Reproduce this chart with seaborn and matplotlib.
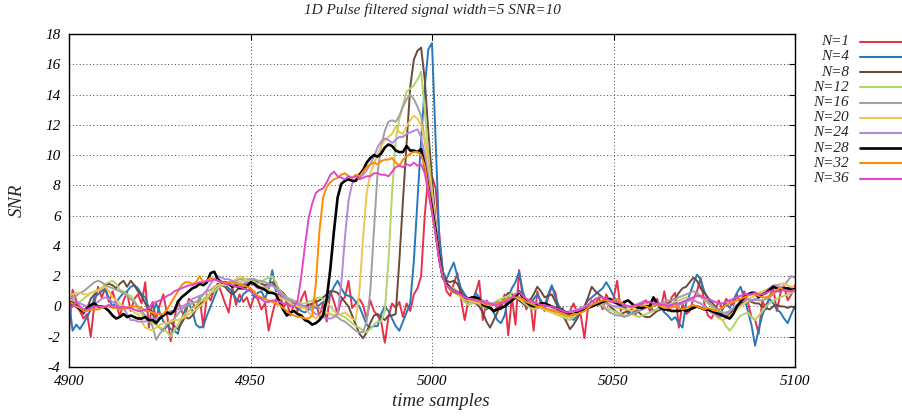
import numpy as np
import pandas as pd
import matplotlib
matplotlib.use("Agg")
import matplotlib.pyplot as plt
import seaborn as sns
from matplotlib.lines import Line2D

# sample axis 4900..5100
samples = np.arange(4900, 5101)

labels = ["N=1", "N=4", "N=8", "N=12", "N=16", "N=20", "N=24", "N=28", "N=32", "N=36"]
colors = ["#e8304a", "#2a78b8", "#6b4a3a", "#b2d46a", "#a0a0a0",
          "#ecc850", "#b38ad8", "#000000", "#ff8a00", "#e048c8"]

snr_n1 = [-1.6, 1.1, 0.4, -0.3, -0.8, -0.5, -2.0, 0.2, 1.3, 0.6,
          1.2, 0.3, 1.0, 0.2, -0.7, 0.4, 0.9, -0.3, 0.5, 0.8,
          0.2, 1.6, -1.4, 0.3, -0.8, 0.1, 0.8, -0.5, -2.3, -0.9,
          0.4, -0.3, -0.7, 0.5, 0.3, -0.2, 0.6, -1.4, 0.8, 0.4,
          1.1, 1.5, 0.9, 0.2, -0.4, 1.3, 0.1, 0.8, 0.3, 0.6,
          -0.1, 0.7, 0.5, -0.2, 0.2, -1.6, -0.5, 0.4, 1.0, -0.1,
          0.3, -0.6, 0.2, -0.3, 0.5, 1.0, -0.2, 0.1, 0.4, -0.7,
          0.2, -1.0, 1.0, 0.3, -0.5, 0.4, 0.6, 1.7, -0.1, 0.2,
          0.5, 0.1, -0.8, 0.4, -0.3, -0.6, -1.0, -2.4, -0.7, 0.2,
          -0.1, 0.3, -0.7, 0.2, -0.3, 0.8, 1.2, 2.0, 6.0, 8.7,
          8.6, 7.8, 4.8, 2.2, 1.0, 0.7, 1.5, 2.2, 0.5, -0.9,
          0.4, 0.2, 0.9, 1.7, -0.9, 0.4, 0.1, -0.4, 0.0, -0.2,
          0.8, -1.9, 0.6, -1.2, 2.4, 0.6, -0.2, 0.5, -1.6, 1.0,
          0.2, -0.3, 0.6, 1.3, 0.9, -0.4, -0.1, -0.9, -0.3, 0.2,
          -0.4, -0.6, -2.1, 0.0, 0.4, 0.2, 0.6, -0.2, 0.8, 0.3,
          0.5, 1.7, -0.3, 0.2, -0.5, -0.2, -0.6, 0.1, 0.3, 0.4,
          -0.3, 0.2, 0.5, -0.2, 1.0, -0.3, 0.6, 0.9, -1.4, 0.2,
          -0.5, -0.3, 0.5, 1.0, 1.9, 0.2, -0.6, -0.8, -0.3, 0.4,
          -0.2, 0.5, 0.3, 0.1, 0.8, 0.2, 1.0, 0.3, -0.7, -0.9,
          -1.8, 0.4, -0.2, 0.7, 1.2, -0.3, 0.9, 1.3, 0.4, 0.8,
          1.4]

snr_n4 = [0.3, -1.6, -1.2, -1.5, -1.1, -0.7, -0.2, 0.6, 0.8, 1.0,
          1.2, 0.5, 0.0, 0.3, 0.6, 0.9, 1.0, 1.3, 1.4, 1.2,
          0.8, 0.6, -0.1, -0.5, 0.2, -0.4, -1.0, -1.2, -1.5, -1.6,
          -1.8, -0.9, -0.2, 0.2, -0.3, -1.2, -1.4, -1.3, -0.6, 0.0,
          0.6, 1.2, 1.4, 1.5, 1.2, 1.0, 0.5, 0.3, 0.8, 1.0,
          1.2, 0.6, 0.9, 1.0, 0.5, 1.2, 2.4, 1.0, 1.0, 0.6,
          0.3, 0.1, 0.2, -0.1, -0.3, -0.4, -0.2, 0.0, -0.1, 0.1,
          0.3, 0.4, 0.8, 1.3, 1.7, 1.2, 0.8, 0.7, 0.6, 0.3,
          0.0, -0.6, -1.2, -1.4, -1.3, -1.3, -0.5, 0.0, -0.3, -0.8,
          -1.3, -1.6, -1.0, -0.4, 0.2, 3.0, 7.0, 11.0, 14.5, 17.0,
          17.4, 11.0, 4.5, 2.3, 1.8, 2.4, 2.9, 2.0, 1.2, 0.8,
          0.5, 0.3, 0.9, 0.6, 0.1, -0.2, 0.0, -0.4, -0.9, -1.1,
          -0.6, 0.6, 1.2, 1.6, 2.3, 1.0, 0.3, 0.0, 0.5, 0.8,
          0.4, 0.0, 0.8, 1.4, 0.6, 0.0, -0.3, -0.5, -0.7, -0.9,
          -0.6, -0.2, 0.0, 0.4, 0.6, 0.8, 1.0, 1.2, 1.6, 1.2,
          0.7, 0.3, 0.0, -0.1, -0.3, -0.5, -0.3, 0.0, -0.2, 0.1,
          0.0, -0.3, -0.2, 0.0, -0.4, -0.6, -0.9, -0.7, -1.1, -1.4,
          0.2, 0.8, 1.5, 2.1, 1.8, 1.0, 0.5, 0.0, -0.4, -0.7,
          -0.2, 0.2, -0.1, 0.4, 0.9, 1.3, 0.6, -0.3, -1.2, -2.6,
          -1.5, -0.6, 0.1, 0.5, 0.2, -0.2, -0.4, -0.8, -1.1, -0.5,
          0.0]

snr_n8 = [0.3, 0.3, 0.1, -0.2, -0.5, -0.1, 0.5, 0.8, 1.0, 1.2,
          1.4, 1.5, 1.4, 1.2, 1.5, 1.7, 1.3, 1.7, 1.4, 1.0,
          0.7, 0.2, -0.2, -0.4, -1.2, -1.4, -1.6, -1.3, -1.0, -1.3,
          -1.5, -1.1, -0.7, -0.8, -0.6, -0.2, 0.1, 0.3, 0.5, 0.8,
          1.0, 1.5, 1.4, 1.3, 1.0, 0.8, 1.0, 1.3, 1.4, 1.5,
          1.7, 1.8, 1.6, 1.5, 1.4, 1.5, 1.6, 1.3, 1.1, 0.9,
          0.6, 0.4, 0.2, 0.0, -0.1, 0.0, 0.1, 0.2, 0.3, 0.4,
          0.6, 0.8, 1.0, 1.0, 0.9, 0.6, 0.3, 0.0, -0.6, -1.2,
          -1.8, -2.1, -1.7, -1.1, -0.6, -0.5, -0.7, -0.9, -0.6, -0.6,
          -0.5, 3.0, 7.0, 10.8, 14.5, 16.3, 16.9, 17.1, 15.0, 11.5,
          8.5, 5.5, 3.3, 2.0, 1.7, 1.6, 1.7, 1.5, 1.0, 0.4,
          0.3, 0.5, 0.2, 0.0, -0.4, -1.0, -1.4, -0.9, -0.4, 0.2,
          0.6, 0.9, 0.8, 0.6, 0.4, 0.2, 0.0, 0.4, 0.8, 1.3,
          1.0, 0.6, 0.7, 0.8, 0.3, -0.2, -0.6, -1.0, -1.5, -1.2,
          -0.8, -0.3, 0.0, 0.6, 1.3, 1.0, 0.8, 0.6, 0.3, 0.0,
          -0.2, -0.4, -0.5, -0.4, -0.3, -0.2, -0.3, -0.4, -0.6, -0.7,
          -0.7, -0.5, -0.3, -0.2, 0.0, 0.2, 0.4, 0.5, 0.9, 1.2,
          1.3, 1.6, 1.9, 1.7, 1.2, 0.9, 0.6, 0.3, 0.0, -0.3,
          -0.5, -0.7, -0.5, -0.2, 0.0, 0.2, 0.3, 0.4, 0.3, 0.2,
          0.2, 0.0, -0.1, -0.2, 0.0, 0.1, 0.0, 0.0, -0.1, 0.0,
          -0.1]

snr_n12 = [0.5, 0.4, 0.3, 0.3, 0.5, 0.7, 0.9, 1.0, 1.1, 1.2,
           1.5, 1.6, 1.7, 1.5, 1.1, 1.0, 0.8, 0.7, 0.4, -0.2,
           -0.5, -0.8, -1.0, -1.1, -1.2, -1.4, -1.5, -1.7, -2.0, -1.6,
           -1.2, -0.8, -0.5, -0.3, -0.1, 0.0, 0.3, 0.5, 0.7, 0.9,
           1.0, 1.2, 1.4, 1.4, 1.5, 1.5, 1.6, 1.6, 1.7, 1.6,
           1.7, 1.6, 1.5, 1.6, 1.8, 1.9, 2.0, 1.6, 1.1, 0.8,
           0.6, 0.5, 0.4, 0.3, 0.2, 0.2, 0.3, 0.4, 0.5, 0.6,
           0.5, 0.3, 0.0, -0.3, -0.5, -0.6, -0.7, -0.9, -1.1, -1.3,
           -1.4, -1.6, -1.7, -1.5, -1.2, -1.0, -1.0, -0.3, 3.0, 7.5,
           11.0, 12.4, 13.3, 14.2, 14.4, 14.6, 15.0, 15.5, 13.0, 10.0,
           7.5, 5.2, 3.2, 2.0, 1.5, 1.3, 1.2, 1.0, 0.6, 0.3,
           0.1, 0.2, 0.3, 0.2, 0.0, -0.1, 0.0, 0.2, 0.4, 0.5,
           0.6, 0.7, 0.9, 0.8, 0.6, 0.3, 0.1, -0.1, -0.2, -0.1,
           -0.1, -0.2, -0.3, -0.4, -0.5, -0.6, -0.7, -0.8, -0.9, -0.7,
           -0.5, -0.4, -0.3, -0.1, 0.0, 0.1, 0.2, 0.1, -0.1, -0.2,
           -0.3, -0.4, -0.5, -0.6, -0.6, -0.5, -0.6, -0.7, -0.6, -0.5,
           -0.4, -0.3, -0.2, -0.1, 0.0, 0.1, 0.2, 0.3, 0.4, 0.5,
           0.6, 0.5, 0.6, 0.7, 0.6, 0.4, 0.2, 0.0, -0.3, -0.6,
           -0.9, -1.3, -1.6, -1.3, -0.9, -0.6, -0.5, -0.4, -0.7, -0.9,
           -0.6, -0.3, 0.0, 0.2, 0.4, 0.5, 0.6, 0.7, 0.8, 0.9,
           1.0]

snr_n16 = [0.5, 0.6, 0.7, 0.9, 1.0, 1.2, 1.4, 1.6, 1.7, 1.6,
           1.4, 1.3, 1.2, 1.1, 1.0, 0.9, 0.7, 0.5, 0.3, 0.0,
           -0.3, -0.6, -0.9, -1.3, -2.2, -1.8, -1.5, -1.2, -1.0, -0.8,
           -0.5, -0.2, 0.0, 0.1, 0.2, 0.3, 0.5, 0.8, 1.0, 1.1,
           1.3, 1.4, 1.5, 1.5, 1.6, 1.6, 1.7, 1.8, 1.8, 1.8,
           1.8, 1.8, 1.7, 1.7, 1.6, 1.5, 1.4, 1.2, 1.0, 0.8,
           0.5, 0.4, 0.3, 0.1, 0.0, -0.1, -0.1, 0.0, 0.0, -0.1,
           -0.3, -0.4, -0.5, -0.6, -0.7, -0.9, -1.0, -1.2, -1.4, -1.6,
           -1.7, -1.7, -1.0, 1.0, 5.0, 8.8, 10.6, 11.6, 12.2, 12.3,
           12.2, 12.6, 13.2, 13.7, 14.0, 13.7, 13.2, 12.6, 11.0, 9.3,
           7.5, 5.3, 3.3, 2.0, 1.5, 1.3, 1.1, 0.9, 0.7, 0.5,
           0.3, 0.3, 0.2, 0.2, 0.1, 0.0, 0.1, 0.2, 0.3, 0.3,
           0.4, 0.5, 0.6, 0.7, 0.6, 0.4, 0.2, 0.1, 0.0, -0.1,
           -0.1, -0.2, -0.2, -0.3, -0.4, -0.4, -0.5, -0.5, -0.6, -0.5,
           -0.4, -0.2, -0.1, 0.0, 0.1, 0.2, 0.1, 0.0, -0.2, -0.4,
           -0.5, -0.6, -0.6, -0.7, -0.6, -0.5, -0.4, -0.3, -0.2, -0.1,
           0.0, 0.1, 0.2, 0.2, 0.3, 0.4, 0.4, 0.5, 0.6, 0.7,
           0.8, 0.9, 1.0, 0.9, 0.7, 0.5, 0.3, 0.1, -0.1, -0.3,
           -0.4, -0.4, -0.3, -0.1, 0.0, 0.1, 0.2, 0.3, 0.4, 0.5,
           0.4, 0.4, 0.5, 0.6, 0.8, 1.0, 1.2, 1.4, 1.7, 2.0,
           1.9]

snr_n20 = [0.7, 0.8, 0.9, 0.9, 0.8, 0.8, 0.9, 1.0, 1.0, 1.2,
           1.3, 1.0, 0.6, 0.4, 0.2, 0.0, -0.1, -0.2, -0.4, -0.5,
           -1.0, -1.4, -1.5, -1.6, -1.4, -1.2, -1.1, -1.1, -1.0, -0.9,
           -0.9, -0.8, -0.7, -0.5, -0.4, -0.2, 0.0, 0.2, 0.5, 0.9,
           1.2, 1.4, 1.5, 1.5, 1.5, 1.6, 1.8, 2.0, 1.9, 1.7,
           1.6, 1.5, 1.4, 1.3, 1.2, 1.1, 0.9, 0.8, 0.6, 0.5,
           0.4, 0.2, 0.1, 0.0, -0.1, -0.1, -0.4, -0.6, -0.8, -0.6,
           -0.4, -0.4, -0.5, -0.6, -0.5, -0.5, -0.4, -0.6, -0.8, -0.9,
           1.0, 4.5, 7.5, 8.8, 9.4, 10.0, 10.6, 11.0, 11.2, 11.4,
           11.9, 11.5, 11.4, 11.9, 12.3, 12.6, 12.4, 12.0, 11.0, 9.3,
           7.5, 5.2, 3.2, 1.9, 1.4, 1.1, 0.9, 0.8, 0.6, 0.5,
           0.4, 0.3, 0.3, 0.2, 0.1, 0.0, 0.0, 0.1, 0.2, 0.3,
           0.4, 0.5, 0.6, 0.6, 0.5, 0.4, 0.3, 0.2, 0.1, 0.0,
           -0.1, -0.2, -0.3, -0.4, -0.5, -0.5, -0.6, -0.7, -0.7, -0.6,
           -0.5, -0.4, -0.2, 0.0, 0.1, 0.2, 0.3, 0.3, 0.2, 0.1,
           0.0, -0.1, -0.1, -0.2, -0.2, -0.3, -0.2, -0.1, 0.0, 0.1,
           0.2, 0.3, 0.2, 0.1, 0.0, -0.1, -0.1, 0.0, 0.1, 0.2,
           0.3, 0.4, 0.4, 0.3, 0.2, 0.0, -0.2, -0.4, -0.6, -0.8,
           -0.9, -0.8, -0.6, -0.4, -0.2, 0.0, 0.2, 0.4, 0.6, 0.7,
           0.9, 1.0, 1.1, 1.2, 1.3, 1.4, 1.5, 1.5, 1.4, 1.3,
           1.2]

snr_n24 = [0.6, 0.5, 0.3, 0.2, 0.1, 0.0, 0.1, 0.2, 0.3, 0.5,
           0.6, 0.5, 0.3, 0.2, 0.0, -0.1, -0.5, -0.9, -0.9, -1.0,
           -1.0, -1.0, -0.9, -0.8, -0.8, -0.7, -0.5, -0.4, -0.3, -0.3,
           -0.2, 0.0, 0.1, 0.3, 0.5, 0.6, 0.7, 0.8, 1.1, 1.5,
           1.8, 2.0, 1.9, 1.8, 1.8, 1.7, 1.6, 1.4, 1.5, 1.6,
           1.5, 1.4, 1.2, 1.2, 1.3, 1.3, 1.4, 1.2, 0.9, 0.7,
           0.5, 0.4, 0.3, 0.2, 0.1, 0.0, -0.1, -0.3, -0.5, -0.6,
           -0.7, -0.8, -0.8, -0.7, -0.5, 1.5, 4.5, 7.0, 8.1, 8.4,
           8.5, 8.7, 9.0, 9.4, 9.9, 10.5, 10.9, 11.1, 11.0, 10.8,
           11.0, 11.2, 11.2, 11.4, 11.5, 11.6, 11.7, 11.2, 10.0, 8.5,
           7.0, 5.0, 3.2, 1.9, 1.4, 1.2, 1.1, 1.0, 0.8, 0.6,
           0.5, 0.5, 0.6, 0.5, 0.4, 0.3, 0.2, 0.2, 0.2, 0.3,
           0.4, 0.5, 0.6, 0.7, 0.6, 0.5, 0.4, 0.3, 0.2, 0.1,
           0.0, -0.1, -0.2, -0.2, -0.3, -0.3, -0.4, -0.4, -0.3, -0.3,
           -0.2, -0.1, 0.0, 0.1, 0.1, 0.2, 0.3, 0.3, 0.2, 0.1,
           0.0, 0.0, 0.1, 0.1, 0.0, 0.0, 0.1, 0.2, 0.3, 0.3,
           0.3, 0.4, 0.3, 0.2, 0.2, 0.1, 0.1, 0.0, 0.1, 0.2,
           0.3, 0.4, 0.4, 0.3, 0.2, 0.0, -0.2, -0.4, -0.5, -0.7,
           -0.6, -0.5, -0.3, -0.1, 0.1, 0.3, 0.4, 0.5, 0.4, 0.4,
           0.6, 0.8, 1.0, 1.2, 1.4, 1.4, 1.3, 1.2, 1.2, 1.2,
           1.1]

snr_n28 = [0.3, 0.2, 0.0, -0.2, -0.3, -0.1, 0.1, 0.2, 0.0, 0.0,
           -0.1, -0.3, -0.6, -0.8, -0.7, -0.5, -0.7, -0.6, -0.7, -0.8,
           -0.8, -0.7, -0.9, -0.9, -1.1, -0.8, -0.6, -0.4, -0.5, -0.3,
           0.3, 0.6, 0.8, 1.0, 1.2, 1.3, 1.5, 1.4, 1.6, 2.2,
           2.3, 1.8, 1.6, 1.6, 1.5, 1.3, 1.4, 1.2, 1.2, 1.3,
           1.6, 1.5, 1.3, 1.2, 1.1, 0.9, 0.9, 0.8, 0.3, -0.2,
           -0.6, -0.4, -0.3, -0.5, -0.6, -0.9, -1.0, -1.2, -1.1, -0.9,
           -0.6, 0.5, 2.5, 5.0, 7.2, 8.1, 8.3, 8.4, 8.3, 8.3,
           8.7, 9.0, 9.5, 9.8, 10.0, 9.9, 10.1, 10.5, 10.7, 10.6,
           10.3, 10.2, 10.2, 10.6, 10.3, 10.3, 10.2, 10.4, 9.3, 7.8,
           6.5, 5.0, 3.2, 1.9, 1.5, 1.2, 1.0, 0.9, 0.8, 0.6,
           0.5, 0.6, 0.6, 0.5, 0.1, 0.0, -0.1, -0.3, -0.2, -0.1,
           0.0, 0.2, 0.4, 0.6, 1.0, 0.6, 0.3, 0.1, 0.0, 0.1,
           0.2, 0.2, 0.1, 0.0, -0.1, -0.2, -0.3, -0.4, -0.5, -0.5,
           -0.4, -0.3, -0.2, -0.1, 0.0, 0.1, 0.2, 0.3, 0.4, 0.5,
           0.3, 0.2, 0.1, 0.3, 0.4, 0.2, 0.0, -0.1, -0.1, 0.0,
           0.0, 0.6, 0.2, -0.1, -0.2, -0.2, -0.3, -0.3, -0.3, -0.2,
           -0.3, -0.2, -0.1, 0.0, -0.1, -0.2, -0.2, -0.3, -0.4, -0.5,
           -0.6, -0.7, -0.8, -0.5, 0.0, 0.3, 0.6, 0.8, 0.9, 0.9,
           0.6, 0.8, 0.9, 1.1, 1.3, 1.2, 1.1, 1.2, 1.2, 1.1,
           1.15]

snr_n32 = [0.3, 0.2, 0.0, -0.1, -0.3, -0.3, -0.2, -0.2, -0.2, -0.1,
           0.0, 0.0, -0.1, -0.1, -0.2, -0.2, -0.1, 0.0, 0.0, 0.0,
           -0.1, -0.3, -0.3, -0.4, -0.5, -0.5, -0.5, -0.2, 0.2, 0.6,
           1.0, 1.4, 1.6, 1.6, 1.5, 1.6, 2.0, 1.6, 1.7, 1.9,
           1.8, 1.7, 1.6, 1.6, 1.6, 1.6, 1.5, 1.5, 1.4, 1.3,
           1.2, 1.0, 0.7, 0.6, 0.5, 0.4, 0.3, 0.2, 0.1, -0.1,
           -0.3, -0.5, -0.6, -0.7, -0.7, -0.8, -0.8, -0.6, 1.5, 5.0,
           7.2, 7.9, 8.2, 8.4, 8.5, 8.7, 8.8, 8.6, 8.5, 8.7,
           8.6, 8.9, 9.2, 9.4, 9.5, 9.4, 9.6, 9.7, 9.7, 9.8,
           9.5, 9.3, 9.7, 9.9, 10.1, 10.2, 10.2, 10.0, 9.3, 7.8,
           6.3, 4.8, 3.1, 1.9, 1.4, 1.2, 1.0, 0.9, 0.7, 0.6,
           0.5, 0.4, 0.4, 0.3, 0.2, 0.1, 0.1, 0.1, 0.2, 0.3,
           0.4, 0.5, 0.6, 0.6, 0.6, 0.5, 0.3, 0.2, 0.1, 0.0,
           0.0, -0.1, -0.2, -0.3, -0.3, -0.4, -0.5, -0.6, -0.6, -0.5,
           -0.5, -0.4, -0.3, -0.1, 0.1, 0.2, 0.3, 0.4, 0.4, 0.3,
           0.4, 0.5, 0.3, 0.1, 0.0, -0.1, 0.0, 0.1, 0.1, 0.0,
           -0.1, 0.0, 0.1, 0.0, -0.1, -0.1, 0.0, 0.0, -0.1, -0.2,
           -0.1, 0.0, 0.1, 0.0, -0.1, -0.2, -0.1, -0.2, -0.3, -0.2,
           -0.1, 0.1, 0.2, 0.3, 0.4, 0.5, 0.6, 0.7, 0.8, 0.8,
           0.7, 0.6, 0.6, 0.7, 0.9, 1.1, 1.2, 1.1, 1.0, 1.0,
           1.1]

snr_n36 = [-0.3, 0.0, 0.3, 0.0, -0.2, -0.2, -0.1, 0.0, 0.0, 0.0,
           0.0, 0.1, 0.0, 0.0, -0.1, 0.0, -0.1, -0.1, -0.2, -0.3,
           -0.3, -0.2, -0.1, 0.2, 0.3, 0.4, 0.5, 0.7, 0.8, 1.0,
           1.1, 1.2, 1.3, 1.4, 1.4, 1.5, 1.6, 1.6, 1.7, 1.7,
           1.8, 1.7, 1.6, 1.5, 1.5, 1.4, 1.3, 1.3, 1.2, 1.1,
           1.0, 0.8, 0.6, 0.5, 0.3, 0.3, 0.4, 0.4, 0.3, 0.2,
           0.2, 0.0, 0.0, 0.4, 2.0, 4.0, 5.8, 6.8, 7.5, 7.7,
           7.8, 8.2, 8.7, 8.9, 8.6, 8.5, 8.4, 8.6, 8.5, 8.6,
           8.4, 8.5, 8.6, 8.6, 8.8, 8.8, 8.7, 8.7, 8.6, 8.9,
           9.2, 9.3, 9.2, 9.4, 9.3, 9.5, 9.3, 9.4, 8.8, 7.5,
           6.2, 4.7, 3.0, 1.9, 1.4, 1.2, 1.0, 0.9, 0.8, 0.6,
           0.5, 0.5, 0.4, 0.4, 0.3, 0.2, 0.2, 0.1, 0.1, 0.2,
           0.3, 0.4, 0.6, 0.8, 1.0, 0.7, 0.5, 0.4, 0.3, 0.2,
           0.1, 0.1, 0.0, 0.0, -0.1, -0.2, -0.3, -0.4, -0.4, -0.3,
           -0.3, -0.2, -0.1, 0.1, 0.3, 0.5, 0.6, 0.6, 0.5, 0.4,
           0.3, 0.3, 0.2, 0.1, 0.0, 0.0, 0.1, 0.1, 0.2, 0.3,
           0.3, 0.2, 0.2, 0.1, 0.1, 0.0, 0.1, 0.2, 0.2, 0.3,
           0.4, 0.5, 0.6, 0.7, 0.7, 0.6, 0.5, 0.4, 0.3, 0.2,
           0.2, 0.3, 0.4, 0.5, 0.6, 0.7, 0.8, 0.8, 0.8, 0.9,
           0.8, 0.8, 0.9, 1.0, 1.0, 1.0, 1.0, 1.1, 1.0, 1.0,
           1.1]

series = [snr_n1, snr_n4, snr_n8, snr_n12, snr_n16,
          snr_n20, snr_n24, snr_n28, snr_n32, snr_n36]

frames = []
for lab, vals in zip(labels, series):
    frames.append(pd.DataFrame({"t": samples, "snr": vals, "filter": lab}))
df = pd.concat(frames, ignore_index=True)

sns.set_theme(style="white")
plt.rcParams["font.family"] = ["Liberation Serif", "DejaVu Serif"]
plt.rcParams["font.style"] = "italic"
plt.rcParams["axes.unicode_minus"] = False

W, H = 902, 416
fig = plt.figure(figsize=(W / 100, H / 100), dpi=100)
ax = fig.add_axes([69 / W, 1 - 367 / H, (795 - 69) / W, (367 - 34) / H])

sns.lineplot(data=df, x="t", y="snr", hue="filter", hue_order=labels,
             palette=dict(zip(labels, colors)), estimator=None, sort=False,
             linewidth=1.4, legend=False, ax=ax)
for line, lab in zip(ax.lines, labels):
    if lab == "N=28":
        line.set_linewidth(1.9)

ax.set_xlim(4900, 5100)
ax.set_ylim(-4, 18)
ax.set_xticks([4900, 4950, 5000, 5050, 5100])
ax.set_yticks(list(range(-4, 19, 2)))
ax.set_axisbelow(True)
ax.grid(True, color="#444444", linestyle=(0, (1, 2.5)), linewidth=0.7)
ax.tick_params(direction="in", top=True, right=True, length=4, width=0.8,
               labelsize=11, pad=6, colors="black")
for sp in ax.spines.values():
    sp.set_color("black")
    sp.set_linewidth(1.0)
ax.set_xlabel("")
ax.set_ylabel("")

fig.text(432 / W, 1 - 10 / H, "1D Pulse filtered signal width=5 SNR=10",
         ha="center", va="center", fontsize=11)
fig.text(441 / W, 1 - 402 / H, "time samples", ha="center", va="center", fontsize=13.5)
fig.text(17 / W, 1 - 200 / H, "SNR", rotation=90, ha="center", va="center", fontsize=13.5)

# legend outside on the right, text right-aligned before the line sample
for k, (lab, col) in enumerate(zip(labels, colors)):
    yy = 1 - (41.7 + 15.2 * k) / H
    fig.text(849 / W, yy, lab, ha="right", va="center", fontsize=11)
    fig.add_artist(Line2D([860 / W, 902 / W], [yy, yy], color=col,
                          linewidth=1.9 if lab == "N=28" else 1.5,
                          transform=fig.transFigure))

fig.savefig("out.png", dpi=100)
